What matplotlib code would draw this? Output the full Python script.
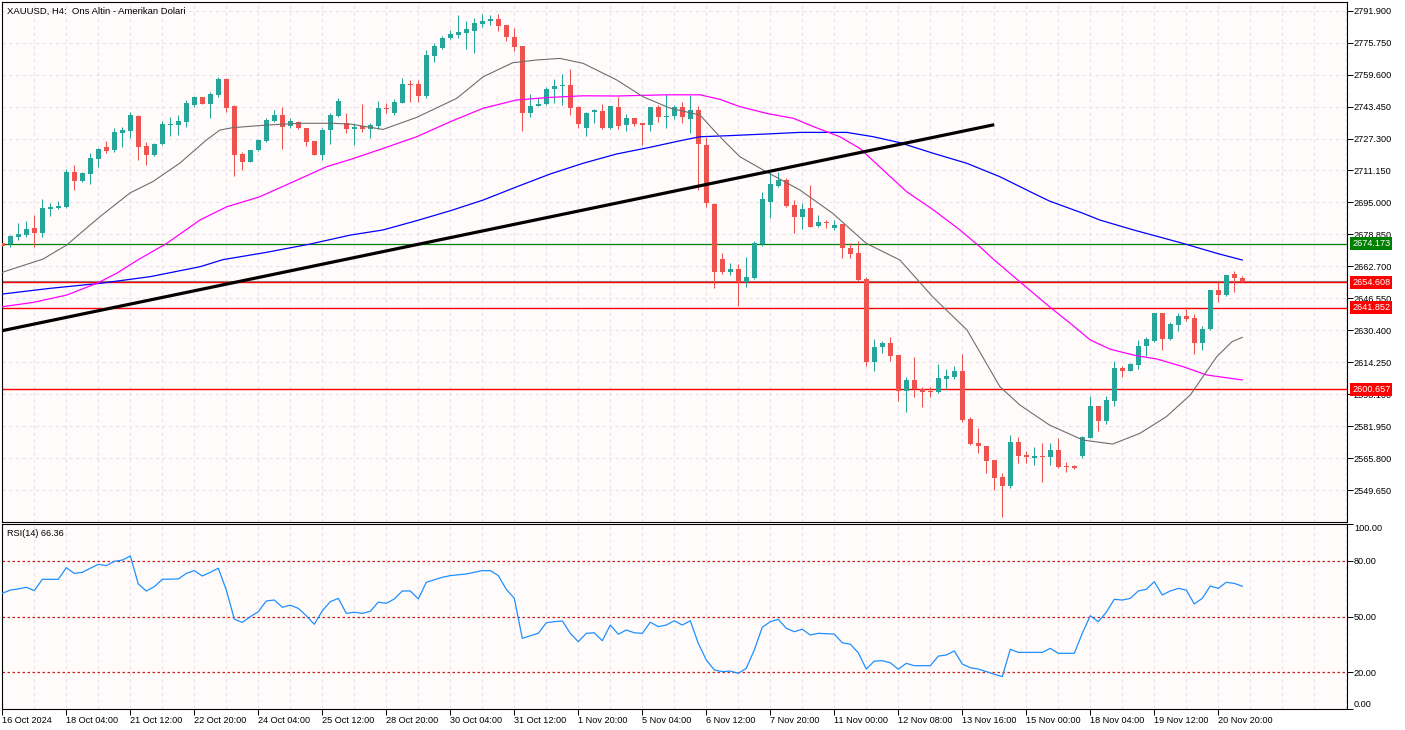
import numpy as np
import matplotlib.pyplot as plt
import matplotlib.transforms as mtransforms

plt.rcParams['font.family'] = ['Liberation Sans', 'DejaVu Sans']
plt.rcParams['font.size'] = 6.6

# XAUUSD H4 candles
opens = [2674.3, 2674.0, 2677.7, 2678.7, 2682.1, 2679.7, 2691.8, 2692.3, 2692.7, 2710.4,
         2705.8, 2709.5, 2717.1, 2723.0, 2721.5, 2730.2, 2731.1, 2738.7, 2723.7, 2719.0,
         2724.5, 2734.3, 2734.1, 2735.6, 2744.4, 2748.3, 2744.9, 2749.4, 2757.4, 2743.6,
         2719.5, 2715.4, 2721.6, 2726.0, 2736.3, 2739.0, 2733.6, 2735.6, 2732.5, 2726.0,
         2718.8, 2731.6, 2738.8, 2735.0, 2731.9, 2733.6, 2731.9, 2733.6, 2742.7, 2740.2,
         2745.4, 2754.7, 2754.8, 2748.8, 2769.0, 2773.2, 2778.2, 2779.8, 2780.8, 2781.6,
         2785.2, 2786.9, 2787.7, 2784.7, 2778.6, 2774.1, 2740.3, 2743.9, 2744.7, 2752.2,
         2753.8, 2754.3, 2743.4, 2732.8, 2740.5, 2741.4, 2732.5, 2743.2, 2734.3, 2737.8,
         2735.0, 2734.3, 2743.1, 2738.0, 2738.8, 2743.2, 2737.3, 2741.7, 2724.0, 2694.2,
         2666.4, 2660.0, 2661.5, 2654.9, 2657.0, 2673.8, 2695.4, 2703.4, 2706.3, 2693.7,
         2687.8, 2692.0, 2683.1, 2685.2, 2682.2, 2684.1, 2671.8, 2669.3, 2656.3, 2614.5,
         2622.1, 2623.9, 2617.9, 2599.8, 2605.3, 2600.6, 2599.7, 2599.3, 2605.9, 2606.9,
         2609.8, 2585.5, 2573.6, 2572.0, 2564.8, 2556.2, 2551.8, 2573.9, 2567.3, 2566.0,
         2566.8, 2566.5, 2569.9, 2561.8, 2561.6, 2566.8, 2576.1, 2592.1, 2584.5, 2594.6,
         2611.5, 2609.9, 2613.0, 2622.4, 2625.0, 2639.0, 2626.0, 2633.0, 2637.6, 2636.4,
         2623.8, 2630.9, 2650.7, 2648.4, 2658.7, 2656.9]
highs = [2674.6, 2678.7, 2684.8, 2685.8, 2688.6, 2696.7, 2694.5, 2695.7, 2712.0, 2714.1,
         2710.2, 2719.8, 2722.7, 2726.0, 2732.8, 2733.3, 2740.5, 2739.0, 2725.5, 2725.0,
         2736.3, 2738.2, 2739.0, 2746.8, 2748.8, 2748.3, 2750.7, 2758.4, 2758.0, 2744.4,
         2720.5, 2721.6, 2727.2, 2737.7, 2741.6, 2743.4, 2737.5, 2736.3, 2732.8, 2726.0,
         2732.6, 2740.2, 2747.9, 2740.0, 2735.3, 2744.7, 2735.3, 2746.3, 2745.1, 2747.1,
         2757.7, 2756.9, 2756.9, 2772.0, 2775.4, 2779.1, 2782.1, 2789.7, 2786.7, 2788.1,
         2790.2, 2789.7, 2790.2, 2784.7, 2783.0, 2774.1, 2749.8, 2747.6, 2753.2, 2757.5,
         2759.9, 2762.4, 2743.7, 2740.7, 2742.4, 2744.7, 2743.9, 2748.1, 2739.7, 2737.8,
         2735.0, 2743.1, 2744.2, 2749.8, 2744.1, 2745.7, 2749.4, 2743.7, 2728.2, 2694.9,
         2669.3, 2664.5, 2663.9, 2667.4, 2675.6, 2700.3, 2709.7, 2710.5, 2707.2, 2696.2,
         2694.9, 2703.8, 2688.6, 2686.1, 2686.1, 2684.3, 2674.3, 2675.5, 2657.5, 2626.0,
         2625.0, 2626.8, 2617.9, 2606.9, 2617.0, 2601.9, 2601.6, 2613.3, 2610.8, 2612.3,
         2618.4, 2586.7, 2581.1, 2572.0, 2564.8, 2558.4, 2577.6, 2576.4, 2569.4, 2571.4,
         2573.6, 2573.6, 2576.1, 2563.9, 2562.3, 2577.1, 2597.2, 2592.1, 2597.2, 2615.0,
         2612.3, 2613.7, 2625.5, 2627.1, 2639.3, 2639.3, 2634.7, 2639.3, 2642.0, 2638.6,
         2632.7, 2650.7, 2654.9, 2658.5, 2660.2, 2657.8]
lows = [2673.0, 2672.6, 2676.0, 2677.7, 2672.6, 2677.7, 2688.1, 2691.8, 2692.2, 2701.3,
        2705.5, 2704.5, 2713.1, 2719.8, 2720.6, 2723.0, 2727.7, 2716.4, 2713.9, 2718.7,
        2723.9, 2728.6, 2729.2, 2733.3, 2743.4, 2744.6, 2737.8, 2748.1, 2740.7, 2708.5,
        2711.5, 2715.3, 2721.1, 2725.5, 2735.6, 2722.1, 2732.8, 2732.3, 2723.7, 2718.8,
        2716.6, 2724.7, 2738.2, 2729.9, 2724.2, 2730.7, 2727.7, 2731.9, 2740.0, 2739.2,
        2745.1, 2745.9, 2745.9, 2747.9, 2766.1, 2772.7, 2777.7, 2777.9, 2772.7, 2770.7,
        2783.8, 2784.7, 2781.6, 2776.7, 2771.7, 2731.2, 2738.0, 2743.7, 2744.2, 2745.4,
        2744.2, 2739.2, 2732.8, 2728.7, 2735.0, 2731.9, 2732.3, 2731.9, 2731.2, 2733.8,
        2724.2, 2731.2, 2735.8, 2732.8, 2737.3, 2735.0, 2730.2, 2701.3, 2692.8, 2651.9,
        2658.8, 2658.3, 2642.8, 2652.4, 2656.5, 2673.0, 2687.3, 2702.9, 2692.8, 2679.7,
        2681.4, 2682.5, 2682.7, 2682.2, 2681.1, 2666.9, 2666.7, 2655.5, 2612.3, 2609.9,
        2619.0, 2615.0, 2594.8, 2589.2, 2596.8, 2591.8, 2596.8, 2598.8, 2600.5, 2605.6,
        2584.2, 2572.4, 2568.5, 2558.4, 2549.7, 2536.2, 2550.8, 2563.4, 2563.4, 2562.4,
        2553.9, 2562.3, 2560.6, 2558.9, 2560.3, 2566.0, 2575.8, 2579.6, 2583.0, 2592.3,
        2606.9, 2609.8, 2610.8, 2617.5, 2624.6, 2620.4, 2625.5, 2630.2, 2635.2, 2618.4,
        2620.4, 2630.5, 2644.8, 2647.9, 2649.9, 2654.6]
closes = [2673.1, 2678.0, 2679.0, 2681.7, 2679.7, 2692.2, 2692.7, 2693.2, 2710.5, 2705.8,
          2709.9, 2717.4, 2722.0, 2721.1, 2730.6, 2731.6, 2739.0, 2723.2, 2719.1, 2724.7,
          2734.6, 2734.6, 2736.1, 2745.4, 2748.3, 2744.9, 2749.8, 2757.4, 2742.9, 2719.1,
          2715.6, 2721.3, 2726.5, 2736.8, 2739.2, 2733.3, 2736.0, 2732.5, 2725.7, 2718.8,
          2731.6, 2739.0, 2746.3, 2731.9, 2733.3, 2731.9, 2734.1, 2742.9, 2742.4, 2745.7,
          2754.8, 2754.3, 2748.8, 2769.5, 2774.1, 2778.2, 2780.1, 2781.1, 2782.6, 2785.7,
          2786.7, 2787.5, 2784.3, 2778.4, 2773.7, 2740.3, 2743.7, 2744.7, 2752.5, 2753.8,
          2754.2, 2742.9, 2734.6, 2740.2, 2741.5, 2732.5, 2743.7, 2733.6, 2737.8, 2734.6,
          2734.3, 2743.1, 2738.0, 2738.7, 2743.4, 2738.3, 2741.7, 2724.4, 2694.6, 2660.0,
          2659.7, 2661.5, 2654.9, 2657.2, 2674.3, 2696.7, 2704.3, 2706.3, 2693.3, 2687.8,
          2691.5, 2682.7, 2684.9, 2684.4, 2683.6, 2671.8, 2668.9, 2655.8, 2614.5, 2621.8,
          2623.9, 2617.5, 2599.8, 2605.3, 2600.6, 2599.3, 2599.0, 2606.3, 2607.4, 2609.8,
          2585.0, 2572.9, 2572.0, 2564.5, 2555.7, 2551.8, 2573.9, 2567.0, 2566.5, 2566.8,
          2566.3, 2569.9, 2561.1, 2561.3, 2560.9, 2576.6, 2592.1, 2584.5, 2595.1, 2611.5,
          2609.9, 2613.3, 2622.4, 2626.1, 2639.0, 2626.0, 2633.5, 2637.6, 2636.1, 2623.8,
          2630.9, 2650.7, 2648.2, 2658.5, 2656.6, 2654.6]

# moving averages, read at sample bars
ma_grey_bar = [0, 5.1, 8.05, 12.2, 16, 18.8, 22.2, 25.5, 27.2, 28.8, 33, 37.2, 41.3, 43.5,
               47.6, 51.8, 56.8, 60.1, 63.8, 66.8, 69.7, 72.6, 76.8, 80.1, 83.5, 87.2, 89.7,
               92.2, 95.5, 99.7, 103.8, 108, 112.2, 116.3, 120.6, 124.7, 127.2, 130.9, 135.1,
               138.8, 142.2, 145.5, 148.5, 151.8, 153.7, 155]
ma_grey_val = [2659.7, 2666.4, 2673.5, 2687.8, 2699.9, 2705.5, 2714.9, 2726.5, 2731.6, 2732.8,
               2734.1, 2735.0, 2735.0, 2734.6, 2731.9, 2738.0, 2747.6, 2758.5, 2765.6, 2767.0,
               2767.8, 2765.3, 2756.9, 2748.4, 2742.6, 2739.2, 2728.2, 2718.1, 2710.5, 2701.3,
               2689.5, 2674.3, 2665.9, 2647.3, 2630.5, 2601.9, 2592.6, 2582.5, 2574.9, 2572.9,
               2578.3, 2586.7, 2597.7, 2617.0, 2624.6, 2626.8]
ma_magenta_bar = [0, 3.9, 8.05, 11.8, 14.3, 17, 20.55, 24.7, 28.05, 32.2, 36.4, 40.55, 43.5,
                  47.6, 51.8, 56, 60.1, 64.3, 68.5, 72.6, 76.8, 83.05, 87.2, 89.7, 92.2,
                  95.55, 98.9, 101.4, 104.7, 107.2, 110.1, 113.05, 116.4, 119.7, 122.2, 124,
                  127.2, 130.9, 133.5, 136, 138.5, 141.8, 144.3, 147.6, 150.55, 155]
ma_magenta_val = [2642.3, 2644.5, 2648.2, 2654.1, 2659.2, 2666.1, 2674.3, 2686.1, 2692.8,
                  2697.9, 2705.5, 2713.1, 2716.7, 2722.3, 2728.2, 2735.8, 2742.6, 2746.8,
                  2748.1, 2748.9, 2748.8, 2749.4, 2749.4, 2747.1, 2743.4, 2740.0, 2737.5,
                  2733.3, 2728.2, 2722.3, 2711.4, 2700.4, 2691.2, 2681.1, 2672.6, 2665.9,
                  2654.9, 2642.3, 2633.9, 2625.5, 2620.8, 2617.5, 2615.9, 2612.0, 2607.8,
                  2605.3]
ma_blue_bar = [0, 6, 12.2, 18.5, 24.7, 27.6, 33.05, 38.5, 43.5, 47.6, 51.8, 56, 60.1, 64.3,
               68.5, 72.6, 76.8, 81, 85.1, 87.2, 90.55, 95.55, 99.7, 105.55, 108.9, 112.2,
               116.4, 120.55, 124.7, 128.9, 130.9, 135.1, 137.2, 141.4, 147.6, 151.8, 155]
ma_blue_val = [2648.7, 2651.6, 2654.1, 2657.5, 2662.5, 2666.1, 2669.8, 2674.0, 2678.5,
               2681.1, 2685.8, 2690.8, 2696.2, 2702.9, 2709.4, 2714.8, 2719.5, 2722.9,
               2726.5, 2728.2, 2728.7, 2729.6, 2730.4, 2730.4, 2728.2, 2725.2, 2719.8,
               2714.8, 2708.0, 2699.6, 2695.7, 2689.5, 2686.1, 2681.1, 2674.3, 2669.3,
               2665.9]

trend_bar = [0, 124]
trend_val = [2630.2, 2734.3]

green_level = 2674.173
red_levels = [2654.608, 2641.852, 2600.657]
bid_price = 2655.3

price_ticks = [2791.900, 2775.750, 2759.600, 2743.450, 2727.300, 2711.150, 2695.000,
               2678.850, 2662.700, 2646.550, 2630.400, 2614.250, 2598.100, 2581.950,
               2565.800, 2549.650]

# RSI(14), read at bars
rsi_bar = [0, 1, 2, 3, 4, 5, 7, 8, 9, 10, 11, 12, 13, 14, 15, 16, 17, 18, 19, 20, 22, 23,
           24, 25, 26, 27, 28, 29, 30, 31, 32, 33, 34, 35, 36, 37, 38, 39, 40, 41, 42, 43,
           44, 45, 46, 47, 48, 49, 50, 51, 52, 53, 55, 56, 58, 59, 60, 61, 62, 63, 64, 65,
           66, 67, 68, 69, 70, 71, 72, 73, 74, 75, 76, 77, 78, 79, 80, 81, 82, 83, 84, 85,
           86, 87, 88, 89, 90, 91, 92, 93, 94, 95, 96, 97, 98, 99, 100, 101, 102, 104, 105,
           106, 107, 108, 109, 110, 111, 112, 113, 114, 116, 117, 118, 119, 120, 121, 122,
           123, 124, 125, 126, 127, 129, 130, 131, 132, 134, 135, 136, 137, 138, 139, 140,
           141, 142, 143, 144, 145, 146, 147, 148, 149, 150, 151, 152, 153, 154, 155]
rsi_val = [62.5, 64.3, 64.9, 65.8, 64.0, 70.1, 70.1, 76.4, 73.3, 73.9, 76.1, 78.2, 77.5,
           79.8, 80.5, 82.7, 67.6, 63.8, 66.1, 70.1, 70.3, 73.3, 74.8, 71.9, 73.9, 76.1,
           64.3, 48.6, 46.8, 49.9, 52.6, 58.4, 58.9, 55.0, 56.1, 54.4, 50.4, 45.8, 53.1,
           58.0, 59.8, 51.7, 52.3, 51.7, 52.8, 57.8, 57.1, 59.5, 63.8, 63.8, 59.5, 68.5,
           71.2, 72.1, 73.0, 73.9, 74.8, 74.8, 72.1, 64.7, 59.8, 38.2, 39.6, 40.9, 46.6,
           47.2, 47.6, 40.9, 36.4, 40.9, 41.2, 36.9, 45.4, 40.4, 42.7, 41.2, 40.9, 46.9,
           44.5, 45.4, 47.7, 45.4, 47.7, 35.5, 26.5, 21.1, 20.2, 20.5, 19.3, 22.0, 31.9,
           44.2, 47.2, 48.5, 43.6, 41.8, 43.1, 40.0, 40.9, 40.5, 35.8, 35.0, 30.4, 21.6,
           25.9, 26.1, 25.0, 21.5, 24.7, 23.4, 23.4, 28.6, 29.2, 31.4, 24.3, 22.3, 21.6,
           20.2, 18.8, 17.5, 32.3, 30.6, 30.6, 30.6, 32.8, 30.1, 30.1, 40.9, 50.4, 47.2,
           52.3, 59.3, 58.9, 59.8, 63.8, 64.7, 68.8, 61.6, 63.8, 65.2, 64.3, 56.8, 59.8,
           66.5, 65.2, 68.5, 67.9, 66.36]
rsi_levels = [20, 50, 80]

time_labels = ['16 Oct 2024', '18 Oct 04:00', '21 Oct 12:00', '22 Oct 20:00', '24 Oct 04:00',
               '25 Oct 12:00', '28 Oct 20:00', '30 Oct 04:00', '31 Oct 12:00', '1 Nov 20:00',
               '5 Nov 04:00', '6 Nov 12:00', '7 Nov 20:00', '11 Nov 00:00', '12 Nov 08:00',
               '13 Nov 16:00', '15 Nov 00:00', '18 Nov 04:00', '19 Nov 12:00', '20 Nov 20:00']

BG = '#fffbfa'
GRID = '#e7e3ec'
UP = '#26a69a'
DOWN = '#ef5350'

W, H = 1405, 730
fig = plt.figure(figsize=(W / 100, H / 100), dpi=100)
ax = fig.add_axes([2 / W, 1 - 522 / H, 1345 / W, 520 / H])
ax2 = fig.add_axes([2 / W, 1 - 709 / H, 1345 / W, 185 / H])
xmin, xmax = -0.04, 168.09

# --- price panel ---
o = np.array(opens)
c = np.array(closes)
x = np.arange(len(o))
cols = np.where(c >= o, UP, DOWN)
ax.vlines(x, lows, highs, colors=cols, lw=0.75, zorder=3)
ax.bar(x, np.maximum(np.abs(c - o), 0.5), bottom=np.minimum(o, c), width=0.62,
       color=cols, linewidth=0, zorder=3)

ax.plot(ma_blue_bar, ma_blue_val, color='#0000ff', lw=0.9, zorder=4)
ax.plot(ma_magenta_bar, ma_magenta_val, color='#ff00ff', lw=0.9, zorder=4)
ax.plot(ma_grey_bar, ma_grey_val, color='#6e6e6e', lw=0.8, zorder=4)
ax.plot(trend_bar, trend_val, color='black', lw=2.3, zorder=5, solid_capstyle='butt')

ax.axhline(green_level, color='#008000', lw=0.9, zorder=2)
ax.axhline(bid_price, color='#8c8c8c', lw=0.8, zorder=2)
for lv in red_levels:
    ax.axhline(lv, color='#ff0000', lw=1.0, zorder=2)

ax.set_xlim(xmin, xmax)
ax.set_ylim(2533.5, 2796.3)
ax.set_facecolor(BG)
ax.set_xticks(np.arange(0, 169, 4))
ax.tick_params(axis='x', length=0, labelbottom=False)
ax.yaxis.tick_right()
ax.set_yticks(price_ticks)
ax.set_yticklabels(['%.3f' % v for v in price_ticks])
ax.tick_params(axis='y', length=4, width=0.7, pad=1, labelsize=6.6)
ax.grid(True, ls=(0, (3, 3)), color=GRID, lw=0.8, zorder=0)
for s in ax.spines.values():
    s.set_linewidth(0.8)

ax.text(5 / 1345, 1 - 9 / 520, 'XAUUSD, H4:  Ons Altin - Amerikan Dolari',
        transform=ax.transAxes, va='center', ha='left', fontsize=6.8)

# level price boxes on the right scale
trans = mtransforms.blended_transform_factory(ax.transAxes, ax.transData)
box_labels = [(green_level, '#008000')] + [(lv, '#ff0000') for lv in red_levels]
for lv, fc in box_labels:
    ax.text(1 + 5 / 1345, lv, '%.3f' % lv, transform=trans, ha='left', va='center',
            color='white', fontsize=6.6, clip_on=False, zorder=10,
            bbox=dict(boxstyle='square,pad=0.22', fc=fc, ec='none'))

# --- RSI panel ---
ax2.plot(rsi_bar, rsi_val, color='#1e90ff', lw=0.9, zorder=3)
for lv in rsi_levels:
    ax2.axhline(lv, color='#c81e1e', lw=0.9, ls=(0, (2, 2)), zorder=2)
ax2.set_xlim(xmin, xmax)
ax2.set_ylim(0, 100)
ax2.set_facecolor(BG)
ax2.yaxis.tick_right()
ax2.set_yticks([0, 20, 50, 80, 100])
ax2.set_yticklabels(['0.00', '20.00', '50.00', '80.00', '100.00'])
ax2.tick_params(axis='y', length=4, width=0.7, pad=1, labelsize=6.6)
ylabs = ax2.get_yticklabels()
ylabs[0].set_va('bottom')
ylabs[-1].set_va('top')

ax2.set_xticks(np.arange(0, 153, 8))
ax2.set_xticklabels(time_labels, ha='left')
ax2.set_xticks(np.arange(0, 169, 4), minor=True)
ax2.tick_params(axis='x', which='major', length=4, width=0.7, pad=0.8, labelsize=6.6)
ax2.tick_params(axis='x', which='minor', length=0)
ax2.grid(True, axis='x', which='both', ls=(0, (3, 3)), color=GRID, lw=0.8, zorder=0)
for s in ax2.spines.values():
    s.set_linewidth(0.8)

ax2.text(5 / 1345, 1 - 9 / 185, 'RSI(14) 66.36', transform=ax2.transAxes,
         va='center', ha='left', fontsize=6.6)

fig.savefig('out.png', dpi=100, facecolor='white')
